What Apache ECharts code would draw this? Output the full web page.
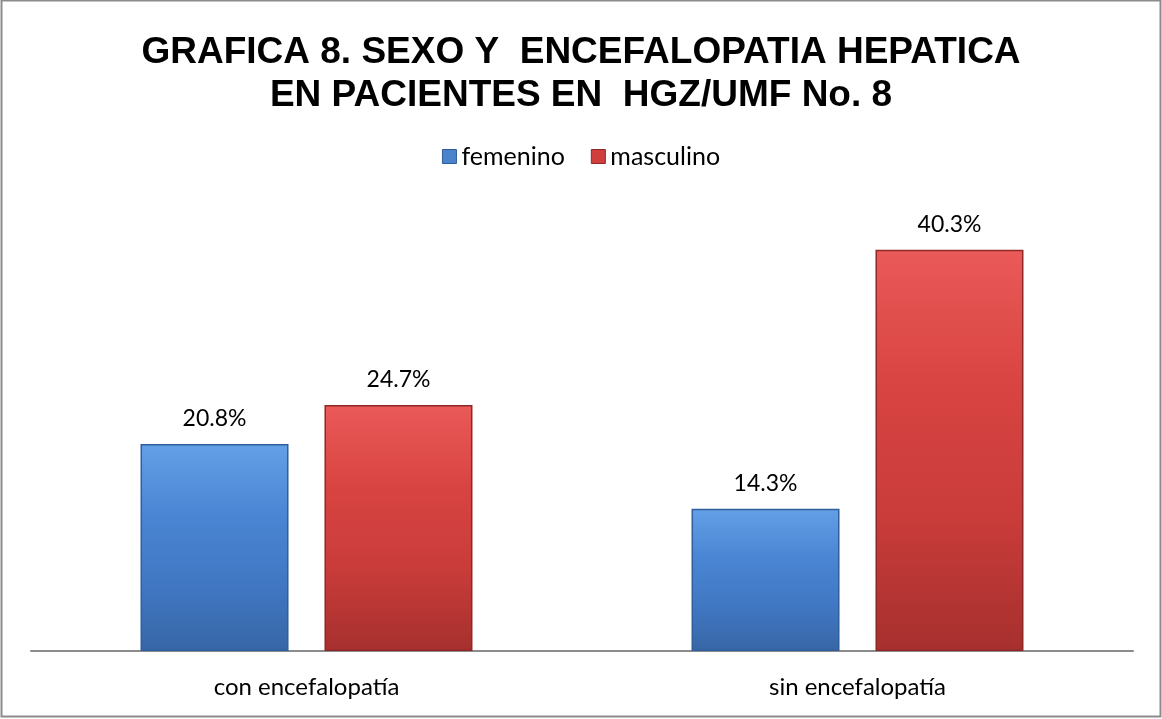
<!DOCTYPE html>
<html><head><meta charset="utf-8">
<script src="https://cdn.jsdelivr.net/npm/echarts@6/dist/echarts.min.js"></script>
<style>html,body{margin:0;padding:0;background:#fff}#c{width:1162px;height:719px}</style>
</head><body><div id="c"></div>
<script>
const categories = ['con encefalopatía', 'sin encefalopatía'];
const femenino = [20.8, 14.3];
const masculino = [24.7, 40.3];
const titleLines = ['GRAFICA 8. SEXO Y  ENCEFALOPATIA HEPATICA', 'EN PACIENTES EN  HGZ/UMF No. 8'];

const chart = echarts.init(document.getElementById('c'), null, {renderer: 'canvas'});
function grad(stops) {
  return new echarts.graphic.LinearGradient(0, 0, 0, 1, stops.map((c, i) => ({offset: i / (stops.length - 1), color: c})));
}
const font = 'Lato, "Open Sans", sans-serif';
chart.setOption({
  animation: false,
  backgroundColor: '#fff',
  title: {
    text: titleLines.join('\n'),
    left: 'center', top: 26,
    textStyle: {fontFamily: '"Liberation Sans", Arial, sans-serif', fontWeight: 'bold', fontSize: 37, lineHeight: 43, color: '#000'}
  },
  legend: {
    top: 139, left: 'center', itemWidth: 14, itemHeight: 14, itemGap: 26,
    textStyle: {fontFamily: font, fontSize: 25, color: '#000'},
    data: [
      {name: 'femenino', icon: 'rect', itemStyle: {color: '#4a82cc', borderColor: '#2d5d99', borderWidth: 1}},
      {name: 'masculino', icon: 'rect', itemStyle: {color: '#cf3f3d', borderColor: '#8e2826', borderWidth: 1}}
    ]
  },
  grid: {left: 31, right: 29, top: 203, bottom: 68, containLabel: false},
  xAxis: {
    type: 'category', data: categories,
    axisLine: {lineStyle: {color: '#8c8c8c', width: 2}},
    axisTick: {show: false},
    axisLabel: {fontFamily: font, fontSize: 24, color: '#000', margin: 24}
  },
  yAxis: {type: 'value', min: 0, max: 45, show: false, splitLine: {show: false}},
  series: [
    {name: 'femenino', type: 'bar', data: femenino, barWidth: 148, barGap: '24.3%',
     itemStyle: {color: grad(['#64a0e6', '#4a86d4', '#4178c4', '#3766a6']), borderColor: '#2f5f9c', borderWidth: 1.5},
     label: {show: true, position: 'top', distance: 14, formatter: p => p.value.toFixed(1) + '%', fontFamily: font, fontSize: 23, color: '#000'}},
    {name: 'masculino', type: 'bar', data: masculino, barWidth: 148,
     itemStyle: {color: grad(['#ea5a58', '#d84442', '#c93c3a', '#a6302e']), borderColor: '#8e2826', borderWidth: 1.5},
     label: {show: true, position: 'top', distance: 14, formatter: p => p.value.toFixed(1) + '%', fontFamily: font, fontSize: 23, color: '#000'}}
  ],
  graphic: [{type: 'rect', shape: {x: 1.5, y: 0.5, width: 1159, height: 716}, style: {fill: 'none', stroke: '#8c8c8c', lineWidth: 2}, silent: true}]
});
</script></body></html>
